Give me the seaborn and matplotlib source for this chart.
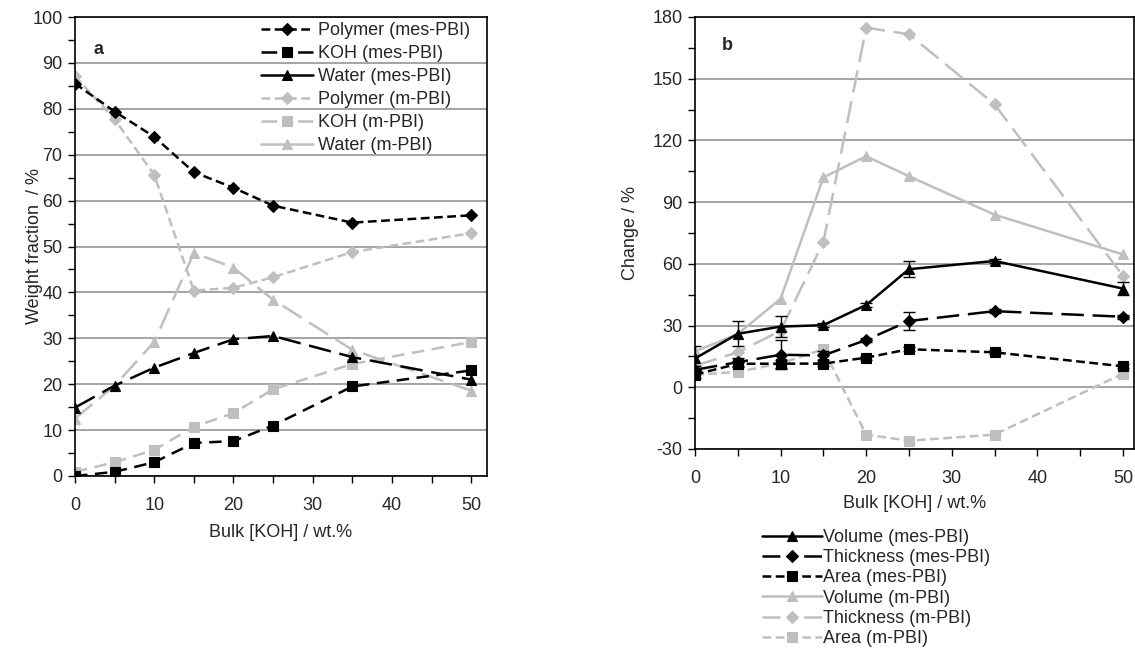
import numpy as np
import matplotlib
matplotlib.use("Agg")
import matplotlib.pyplot as plt
from matplotlib.lines import Line2D
import seaborn as sns
from matplotlib.ticker import MultipleLocator

sns.set_theme(style="white")
plt.rcParams['font.family'] = ['Liberation Sans', 'DejaVu Sans']
plt.rcParams['axes.unicode_minus'] = False

# ---------------- data ----------------
koh = [0, 5, 10, 15, 20, 25, 35, 50]

# panel a: weight fraction / %
polymer_mes = [85.5, 79.4, 73.9, 66.2, 62.8, 58.9, 55.2, 56.8]
koh_mes = [0.0, 0.9, 3.0, 7.2, 7.6, 11.0, 19.5, 23.0]
water_mes = [14.9, 19.7, 23.6, 26.8, 29.8, 30.5, 25.9, 21.0]
polymer_m = [87.1, 77.7, 65.6, 40.4, 41.0, 43.3, 48.8, 52.9]
koh_m = [0.9, 3.0, 5.7, 10.7, 13.7, 18.9, 24.4, 29.2]
water_m = [12.5, 19.7, 29.2, 48.6, 45.4, 38.4, 27.5, 18.6]

# panel b: change / %
volume_mes = [14.0, 26.0, 29.5, 30.2, 40.0, 57.4, 61.4, 48.0]
volume_mes_err = [6.0, 6.0, 5.0, 1.0, 1.0, 4.0, 1.0, 3.0]
thick_mes = [8.5, 12.2, 15.8, 15.5, 23.0, 32.2, 37.0, 34.3]
thick_mes_err = [2.0, 2.0, 7.0, 2.0, 1.0, 4.3, 1.0, 1.0]
area_mes = [6.2, 11.4, 11.5, 11.5, 14.4, 18.5, 17.0, 10.2]
area_mes_err = [1.5, 1.5, 2.0, 1.0, 1.0, 1.0, 1.0, 1.0]
volume_m = [17.4, 25.9, 43.0, 102.0, 112.3, 102.6, 83.9, 64.6]
thick_m = [10.5, 17.0, 27.5, 70.6, 174.8, 171.6, 137.6, 54.2]
area_m = [6.0, 7.5, 11.6, 18.5, -23.0, -26.0, -23.0, 6.6]

labels_a = ["Polymer (mes-PBI)", "KOH (mes-PBI)", "Water (mes-PBI)",
            "Polymer (m-PBI)", "KOH (m-PBI)", "Water (m-PBI)"]
labels_b = ["Volume (mes-PBI)", "Thickness (mes-PBI)", "Area (mes-PBI)",
            "Volume (m-PBI)", "Thickness (m-PBI)", "Area (m-PBI)"]

BLACK = "#000000"
GRAY = "#bfbfbf"
GRID = "#8c8c8c"
SHORT = (0, (3.5, 1.8))
MED = (0, (5, 3))
LONG = (0, (9, 3.5))
FS = 13
LW = 1.8

fig = plt.figure(figsize=(11.35, 6.49), dpi=100)
axa = fig.add_axes([75 / 1135, 1 - 476 / 649, (487 - 75) / 1135, (476 - 17) / 649])
axb = fig.add_axes([695 / 1135, 1 - 449 / 649, (1134 - 695) / 1135, (449 - 17) / 649])


def style_axes(ax, xmax, ymin, ymax, ymaj, ymin_step):
    ax.set_xlim(0, xmax)
    ax.set_ylim(ymin, ymax)
    ax.xaxis.set_major_locator(MultipleLocator(10))
    ax.xaxis.set_minor_locator(MultipleLocator(5))
    ax.yaxis.set_major_locator(MultipleLocator(ymaj))
    ax.yaxis.set_minor_locator(MultipleLocator(ymin_step))
    ax.grid(False)
    ax.yaxis.grid(True, which="major", color=GRID, linewidth=1.1)
    ax.set_axisbelow(True)
    for s in ax.spines.values():
        s.set_color("black")
        s.set_linewidth(1.2)
    ax.tick_params(axis="both", which="both", direction="out", color="black",
                   width=1.0, labelsize=FS, bottom=True, left=True)
    ax.tick_params(axis="both", which="major", length=5)
    ax.tick_params(axis="both", which="minor", length=5)
    ax.tick_params(axis="x", pad=10)
    ax.tick_params(axis="y", pad=4)


style_axes(axa, 52, 0, 100, 10, 5)
style_axes(axb, 51.3, -30, 180, 30, 15)


def gapped(handlelength):
    L = handlelength * FS / LW
    return (0, (0.3 * L, 0.4 * L))


def draw(ax, series, labels, hlen):
    handles = []
    for (vals, err, c, ls, legls, m, ms), lab in zip(series, labels):
        sns.lineplot(x=koh, y=vals, ax=ax, color=c, linestyle=ls, marker=m,
                     markersize=ms, markeredgecolor=c, markeredgewidth=0.8,
                     linewidth=LW, zorder=3 if c == BLACK else 2)
        if err is not None:
            ax.errorbar(koh, vals, yerr=err, fmt="none", ecolor="black",
                        elinewidth=1.0, capsize=4, capthick=1.0, zorder=4)
        if legls == "gap":
            legls = gapped(hlen)
        handles.append(Line2D([], [], color=c, linestyle=legls, marker=m,
                              markersize=ms, markeredgecolor=c,
                              markeredgewidth=0.8, linewidth=LW, label=lab))
    return handles


HA = 2.9
series_a = [
    (polymer_mes, None, BLACK, SHORT, SHORT, "D", 6),
    (koh_mes, None, BLACK, MED, "gap", "s", 7),
    (water_mes, None, BLACK, LONG, "-", "^", 7.5),
    (polymer_m, None, GRAY, SHORT, SHORT, "D", 6),
    (koh_m, None, GRAY, MED, "gap", "s", 7),
    (water_m, None, GRAY, LONG, "-", "^", 7.5),
]
ha = draw(axa, series_a, labels_a, HA)

axa.set_xlabel("Bulk [KOH] / wt.%", fontsize=FS, labelpad=7)
axa.set_ylabel("Weight fraction  / %", fontsize=FS)
axa.yaxis.set_label_coords(-0.078, 0.5)
axa.text(0.045, 0.93, "a", transform=axa.transAxes, fontsize=FS,
         fontweight="bold", va="center")
axa.legend(handles=ha, loc="upper right", bbox_to_anchor=(0.985, 1.012), frameon=False,
           fontsize=FS, handlelength=HA, labelspacing=0.33,
           handletextpad=0.25, borderaxespad=0.2)

HB = 3.3
series_b = [
    (volume_mes, volume_mes_err, BLACK, "-", "-", "^", 7.5),
    (thick_mes, thick_mes_err, BLACK, LONG, "gap", "D", 6),
    (area_mes, area_mes_err, BLACK, SHORT, SHORT, "s", 7),
    (volume_m, None, GRAY, "-", "-", "^", 7.5),
    (thick_m, None, GRAY, LONG, "gap", "D", 6),
    (area_m, None, GRAY, SHORT, SHORT, "s", 7),
]
hb = draw(axb, series_b, labels_b, HB)

axb.set_xlabel("Bulk [KOH] / wt.%", fontsize=FS, labelpad=6)
axb.set_ylabel("Change / %", fontsize=FS)
axb.yaxis.set_label_coords(-0.128, 0.5)
axb.text(0.06, 0.935, "b", transform=axb.transAxes, fontsize=FS,
         fontweight="bold", va="center")
axb.legend(handles=hb, loc="upper left", bbox_to_anchor=(762 / 1135, 1 - 529 / 649),
           bbox_transform=fig.transFigure, frameon=False, fontsize=FS,
           handlelength=HB, labelspacing=0.18, handletextpad=0.1,
           borderaxespad=0.0, borderpad=0.0)

fig.savefig("out.png", dpi=100)
